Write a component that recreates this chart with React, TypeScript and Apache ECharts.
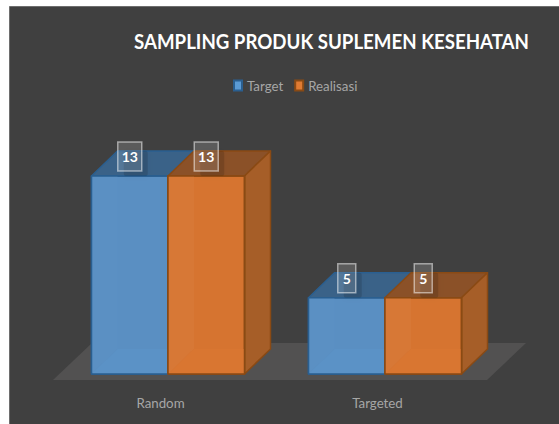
import React, { useEffect, useRef } from "react";
import * as echarts from "echarts";

const categories = ["Random", "Targeted"];
const targetValues = [13, 5];
const realisasiValues = [13, 5];
const titleText = "SAMPLING PRODUK SUPLEMEN KESEHATAN";

const FONT = "Lato, 'Open Sans', sans-serif";
const BG = "#404040";
const BAR_RATIO = 0.3525;
const DX = 26;
const DY = 25;

type Palette = {
  front: string; top: string; side: string; border: string; left: string; floor: string;
};
const bluePalette: Palette = {
  front: "#5a8fc2", top: "#3a6288", side: "#3a6288", border: "#2a5f90",
  left: "#5b90c3", floor: "#5b92c6",
};
const orangePalette: Palette = {
  front: "#d67430", top: "#8b5128", side: "#a65e28", border: "#8a4a14",
  left: "#d77836", floor: "#d97631",
};

function cube(palette: Palette, slot: number) {
  return (params: any, api: any) => {
    const idx = api.value(0);
    const val = api.value(1);
    const base = api.coord([idx, 0]);
    const top = api.coord([idx, val]);
    const band = api.size([1, 0])[0];
    const w = band * BAR_RATIO;
    const x0 = base[0] + slot * w;
    const x1 = x0 + w;
    const yb = base[1];
    const yt = top[1];
    const st = { stroke: palette.border, lineWidth: 1.5, lineJoin: "round" };
    const poly = (points: number[][], fill: string, stroke = true) => ({
      type: "polygon",
      shape: { points },
      style: stroke ? { fill, ...st } : { fill },
    });
    const cx = (x0 + x1) / 2;
    const labelW = String(val).length > 1 ? 24 : 18;
    const labelH = 29;
    const ly = yt - 34;
    return {
      type: "group",
      children: [
        poly([[x0, yt], [x1, yt], [x1 + DX, yt - DY], [x0 + DX, yt - DY]], palette.top),
        poly([[x1, yt], [x1 + DX, yt - DY], [x1 + DX, yb - DY], [x1, yb]], palette.side),
        poly([[x0, yt], [x1, yt], [x1, yb], [x0, yb]], palette.front),
        poly([[x0, yt], [x0 + DX, yt], [x0 + DX, yb - DY], [x0, yb]], palette.left, false),
        poly([[x0, yb], [x0 + DX, yb - DY], [x1, yb - DY], [x1, yb]], palette.floor, false),
        {
          type: "rect",
          shape: { x: x0, y: yt, width: w, height: yb - yt },
          style: { fill: "none", ...st },
        },
        {
          type: "rect",
          shape: { x: cx - labelW / 2 + 6, y: ly + 9, width: labelW, height: labelH - 4, r: 2 },
          style: { fill: "rgba(0,0,0,0.13)", shadowBlur: 6, shadowColor: "rgba(0,0,0,0.25)" },
        },
        {
          type: "rect",
          shape: { x: cx - labelW / 2, y: ly, width: labelW, height: labelH },
          style: { fill: "rgba(255,255,255,0.14)", stroke: "rgba(255,255,255,0.5)", lineWidth: 1.5 },
        },
        {
          type: "text",
          x: cx,
          y: ly + labelH / 2,
          style: {
            text: String(val),
            fill: "#ffffff",
            font: `700 14px ${FONT}`,
            align: "center",
            verticalAlign: "middle",
          },
        },
      ],
    };
  };
}

export default function App() {
  const ref = useRef<HTMLDivElement>(null);
  useEffect(() => {
    if (!ref.current) return;
    const chart = echarts.init(ref.current, undefined, { renderer: "svg" });
    chart.setOption({
      animation: false,
      backgroundColor: "#ffffff",
      legend: {
        left: 228,
        top: 74,
        icon: "rect",
        itemWidth: 8,
        itemHeight: 10,
        itemGap: 11,
        data: ["Target", "Realisasi"],
        textStyle: { color: "#a6a6a6", fontFamily: FONT, fontSize: 13.3 },
      },
      grid: { left: 59.5, width: 434, top: 145.5, height: 228.5 },
      xAxis: {
        type: "category",
        data: categories,
        axisLine: { show: false },
        axisTick: { show: false },
        axisLabel: { color: "#a6a6a6", fontFamily: FONT, fontSize: 13.3, margin: 22, padding: [0, 15, 0, 0] },
      },
      yAxis: { type: "value", min: 0, max: 15, show: false, splitLine: { show: false } },
      graphic: [
        {
          type: "rect",
          z: -10,
          shape: { x: 9.5, y: 6.5, width: 560, height: 430 },
          style: { fill: BG, stroke: "#6e6e6e", lineWidth: 1 },
        },
        {
          type: "polygon",
          z: -9,
          shape: { points: [[53, 380], [487, 380], [526, 343], [92, 343]] },
          style: { fill: "#525151" },
        },
        {
          type: "text",
          x: 134,
          y: 41,
          scaleX: 0.89,
          style: {
            text: titleText,
            fill: "#ffffff",
            font: `700 21px ${FONT}`,
            align: "left",
            verticalAlign: "middle",
          },
        },
      ],
      series: [
        {
          name: "Target",
          type: "custom",
          renderItem: cube(bluePalette, -1),
          encode: { x: 0, y: 1 },
          data: categories.map((_, i) => [i, targetValues[i]]),
          itemStyle: { color: "#5b9bd5", borderColor: "#2a5f90", borderWidth: 1 },
        },
        {
          name: "Realisasi",
          type: "custom",
          renderItem: cube(orangePalette, 0),
          encode: { x: 0, y: 1 },
          data: categories.map((_, i) => [i, realisasiValues[i]]),
          itemStyle: { color: "#e07b33", borderColor: "#8a4a14", borderWidth: 1 },
        },
      ],
    });
    return () => chart.dispose();
  }, []);
  return <div ref={ref} style={{ width: 559, height: 424, position: "fixed", left: 0, top: 0 }} />;
}
